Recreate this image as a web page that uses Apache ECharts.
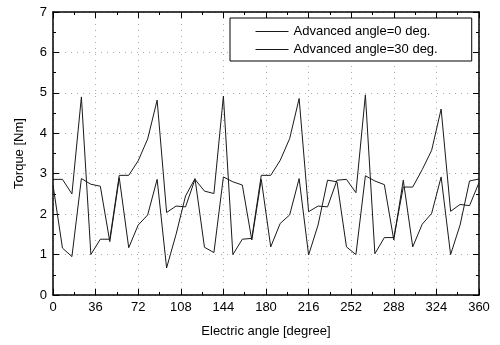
<!DOCTYPE html>
<html>
<head>
<meta charset="utf-8">
<script src="https://cdn.jsdelivr.net/npm/echarts@6/dist/echarts.min.js"></script>
<style>
	body{margin:0;background:#fff;}
	#chart{width:500px;height:345px;}
</style>
</head>
<body>
<div id="chart"></div>
<script type="text/javascript">
    // electric angle samples (degree)
    var angle = [0, 8, 16, 24, 32, 40, 48, 56, 64, 72, 80, 88, 96, 104, 112, 120,
        128, 136, 144, 152, 160, 168, 176, 184, 192, 200, 208, 216, 224, 232, 240,
        248, 256, 264, 272, 280, 288, 296, 304, 312, 320, 328, 336, 344, 352, 360];

    // torque, advanced angle = 0 deg
    var torque0 = [2.86, 2.86, 2.50, 4.90, 1.00, 1.38, 1.38, 2.96, 2.96, 3.32, 3.86, 4.82, 2.04, 2.20, 2.18, 2.86,
        2.57, 2.51, 4.92, 1.00, 1.38, 1.40, 2.96, 2.96, 3.33, 3.87, 4.86, 2.06, 2.20, 2.18, 2.84,
        2.86, 2.53, 4.95, 1.02, 1.42, 1.42, 2.67, 2.67, 3.10, 3.58, 4.60, 2.07, 2.24, 2.21, 2.78];

    // torque, advanced angle = 30 deg
    var torque30 = [2.72, 1.16, 0.95, 2.88, 2.74, 2.69, 1.32, 2.90, 1.17, 1.73, 1.98, 2.86, 0.67, 1.50, 2.45, 2.88,
        1.18, 1.05, 2.92, 2.80, 2.72, 1.36, 2.86, 1.19, 1.77, 1.98, 2.88, 0.99, 1.73, 2.84, 2.80,
        1.19, 1.00, 2.95, 2.82, 2.73, 1.36, 2.84, 1.19, 1.75, 2.02, 2.92, 1.00, 1.73, 2.82, 2.87];

    var names = ['Advanced angle=0 deg.', 'Advanced angle=30 deg.'];

    function pairs(ys){
        var out = [];
        for (var i = 0; i < angle.length; i++) out.push([angle[i], ys[i]]);
        return out;
    }

    var font = 'Liberation Sans, Arial, sans-serif';
    var tick = {show: true, inside: true, length: 6, lineStyle: {color: '#000', width: 1}};
    var minor = {show: true, splitNumber: 2, length: 3, lineStyle: {color: '#000', width: 1}};
    var grid = {show: true, lineStyle: {color: '#aaa', type: [1, 5], width: 1}};

    var myChart = echarts.init(document.getElementById('chart'));
    var option = {
        backgroundColor: '#fff',
        animation: false,
        textStyle: {fontFamily: font},
        grid: {left: 53, right: 21, top: 12, bottom: 50},
        legend: {
            orient: 'vertical',
            left: 230,
            top: 18,
            data: names,
            itemWidth: 33,
            itemHeight: 13,
            itemGap: 5,
            padding: [7, 34, 5, 25],
            borderColor: '#000',
            borderWidth: 1,
            backgroundColor: '#fff',
            itemStyle: {opacity: 0},
            lineStyle: {color: '#1a1a1a', width: 1},
            textStyle: {fontFamily: font, fontSize: 13, color: '#000'}
        },
        xAxis: [
            {
                type: 'value',
                min: 0, max: 360, interval: 36,
                name: 'Electric angle [degree]',
                nameLocation: 'middle',
                nameGap: 30,
                nameTextStyle: {fontFamily: font, fontSize: 13, color: '#000'},
                axisLine: {show: true, onZero: false, lineStyle: {color: '#000', width: 1.5}},
                axisTick: tick,
                minorTick: minor,
                axisLabel: {fontFamily: font, fontSize: 13, color: '#000', margin: 6},
                splitLine: grid
            },
            {
                type: 'value', position: 'top',
                min: 0, max: 360, interval: 36,
                axisLine: {show: true, onZero: false, lineStyle: {color: '#000', width: 1.5}},
                axisTick: tick,
                minorTick: minor,
                axisLabel: {show: false},
                splitLine: {show: false}
            }
        ],
        yAxis: [
            {
                type: 'value',
                min: 0, max: 7, interval: 1,
                name: 'Torque [Nm]',
                nameLocation: 'middle',
                nameGap: 27,
                nameTextStyle: {fontFamily: font, fontSize: 13, color: '#000'},
                axisLine: {show: true, onZero: false, lineStyle: {color: '#000', width: 1.5}},
                axisTick: tick,
                minorTick: minor,
                axisLabel: {fontFamily: font, fontSize: 13, color: '#000', margin: 6},
                splitLine: grid
            },
            {
                type: 'value', position: 'right',
                min: 0, max: 7, interval: 1,
                axisLine: {show: true, onZero: false, lineStyle: {color: '#000', width: 1.5}},
                axisTick: tick,
                minorTick: minor,
                axisLabel: {show: false},
                splitLine: {show: false}
            }
        ],
        series: [
            {
                name: names[0],
                type: 'line',
                symbol: 'none',
                data: pairs(torque0),
                lineStyle: {color: '#1a1a1a', width: 1},
                itemStyle: {color: '#1a1a1a'}
            },
            {
                name: names[1],
                type: 'line',
                symbol: 'none',
                data: pairs(torque30),
                lineStyle: {color: '#1a1a1a', width: 1},
                itemStyle: {color: '#1a1a1a'}
            }
        ]
    };
    myChart.setOption(option);
</script>
</body>
</html>
